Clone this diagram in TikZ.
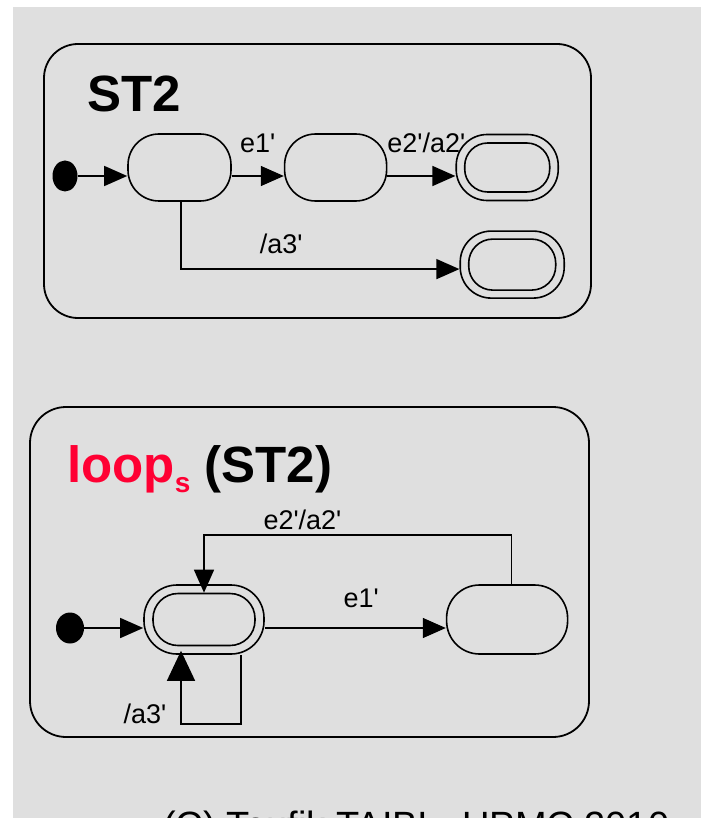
\documentclass[tikz,border=0pt]{standalone}
\usepackage{fontspec}
\setmainfont{Liberation Sans}
\newfontfamily\diagfont{Liberation Sans}
\usepackage{xcolor}
\usetikzlibrary{shapes.geometric, arrows.meta, positioning}
\definecolor{loopred}{RGB}{255,0,51}
\definecolor{bggray}{RGB}{223,223,223}
\tikzstyle{trans} = [line width=1.4pt, -{Triangle[length=23pt,width=20pt]}]

\begin{document}
\begin{tikzpicture}[
    x=1pt, y=-1pt,
    chart/.style={rectangle, draw, line width=1.8pt, rounded corners=34pt, inner sep=0pt},
    state/.style={rectangle, draw, line width=1.6pt, rounded corners=31pt, minimum width=103pt, minimum height=67pt, inner sep=0pt},
    startdot/.style={ellipse, fill=black, minimum width=25pt, minimum height=31pt, inner sep=0pt},
    boxtitle/.style={font=\diagfont\fontsize{51}{51}\selectfont\bfseries, inner sep=0pt, anchor=base west},
    lbl/.style={font=\diagfont\fontsize{27}{27}\selectfont, inner sep=0pt, text depth=0pt},
    bigtip/.style={-{Triangle[length=30pt,width=28pt]}}
  ]
    \useasboundingbox (0,0) rectangle (701,818);
    \fill[bggray] (13,7) rectangle (701,818);

    % ST2
    \node[chart, minimum width=547pt, minimum height=274pt] (box1) at (317.5,181) {};
    \node[boxtitle] (title1) at (87,112) {ST2};
    \node[startdot] (i1) at (65,176) {};
    \node[state] (a) at (179.5,167.5) {};
    \node[state, right=52pt of a, minimum width=102pt] (b) {};
    \node[state, right=68pt of b, minimum width=102pt, minimum height=66pt] (f1) {};
    \node[state, minimum width=85pt, minimum height=49pt, rounded corners=23pt] (f1in) at (f1) {};
    \node[state, below=29pt of f1, xshift=5pt, minimum width=104pt] (f2) {};
    \node[state, minimum width=87pt, minimum height=51pt, rounded corners=24pt] (f2in) at (f2) {};

    \draw[trans] (i1) -- (i1 -| a.west);
    \draw[trans] ([yshift=-8.5pt]a.east) -- ([yshift=-8.5pt]b.west)
      node[lbl, midway, above=23pt] (le1) {e1'};
    \draw[trans] ([yshift=-8.5pt]b.east) -- ([yshift=-8.5pt]f1.west)
      node[lbl, midway, above=23pt, xshift=5pt] (le2) {e2'/a2'};
    \draw[trans] ([xshift=1.5pt]a.south) |- node[lbl, pos=0.68, above=15pt] (la3) {/a3'} ([yshift=-4.5pt]f2.west);

    % loop_s(ST2)
    \node[chart, minimum width=559pt, minimum height=330pt, rounded corners=36pt] (box2) at (309.5,572) {};
    \node[boxtitle] (title2) at (67,482) {\textcolor{loopred}{loop\raisebox{-10pt}{\fontsize{28}{28}\selectfont s}} (ST2)};
    \node[startdot, minimum width=28pt] (i2) at (70,628) {};
    \node[state, minimum width=120pt, minimum height=69pt, rounded corners=33pt] (s1) at (204,619.5) {};
    \node[state, minimum width=102pt, minimum height=52pt, rounded corners=25pt] (s1in) at (s1) {};
    \node[state, right=181pt of s1, minimum width=121pt, minimum height=69pt, rounded corners=33pt] (s2) {};

    \draw[trans] (i2) -- (i2 -| s1.west);
    \draw[trans] (i2 -| s1.east) -- (i2 -| s2.west)
      node[lbl, midway, above=20pt, xshift=6pt] (le1b) {e1'};
    \coordinate (back) at (0,535);
    \draw[trans] ([xshift=4.5pt]s2.north) |- node[lbl, pos=0.84, above=5pt] (le2b) {e2'/a2'} (back -| s1in.north) -- (s1in.north);
    \draw[trans, bigtip] ([xshift=37pt]s1.south) -- ++(0,69) -| node[lbl, pos=0.5, anchor=base east, xshift=-14pt] (la3b) {/a3'} ([xshift=-23pt, yshift=4pt]s1.south);

    % footer, cut off at the page edge
    \begin{scope}
      \clip (13,7) rectangle (701,818);
      \node[font=\diagfont\fontsize{38}{38}\selectfont, inner sep=0pt, anchor=base west] (footer) at (163,838) {(C) Toufik TAIBI - UPMC 2010};
    \end{scope}
\end{tikzpicture}
\end{document}
